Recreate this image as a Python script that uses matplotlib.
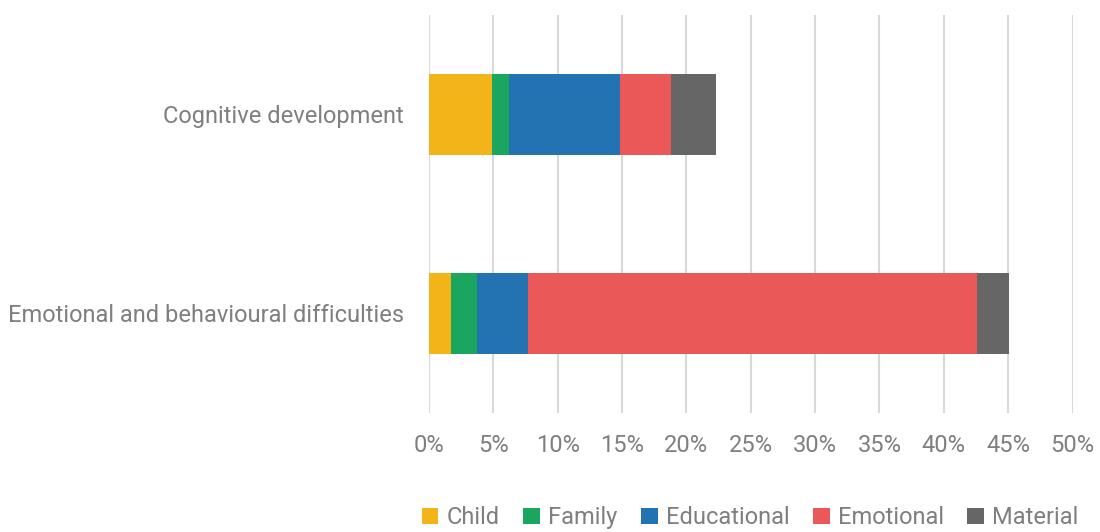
import numpy as np
import matplotlib.pyplot as plt
from matplotlib.ticker import PercentFormatter

plt.rcParams['font.family'] = ['Roboto', 'DejaVu Sans']

categories = ["Cognitive development", "Emotional and behavioural difficulties"]
series = ["Child", "Family", "Educational", "Emotional", "Material"]
colors = ["#f2b418", "#1ba660", "#2373b3", "#eb5858", "#666666"]

# share of each outcome, in percent
child = [4.9, 1.7]
family = [1.35, 2.0]
educational = [8.6, 4.0]
emotional = [3.95, 34.9]
material = [3.5, 2.45]
values = [child, family, educational, emotional, material]

text_color = "#7f7f7f"

fig = plt.figure(figsize=(11, 5.32), dpi=100)
ax = fig.add_axes([0.39, 0.224, 0.585, 0.748])

y = np.arange(len(categories))
left = np.zeros(len(categories))
for name, vals, c in zip(series, values, colors):
    ax.barh(y, vals, left=left, height=0.405, color=c, label=name, zorder=3)
    left += np.array(vals)

ax.set_xlim(0, 50)
ax.set_ylim(1.5, -0.5)
ax.set_xticks(np.arange(0, 51, 5))
ax.xaxis.set_major_formatter(PercentFormatter(decimals=0))
ax.set_yticks(y)
ax.set_yticklabels(categories)

ax.grid(axis='x', color='#d9d9d9', linewidth=1.5, zorder=0)
for s in ax.spines.values():
    s.set_visible(False)
ax.tick_params(axis='both', length=0, labelsize=17, labelcolor=text_color)
ax.tick_params(axis='x', pad=15)
ax.tick_params(axis='y', pad=18)

fig.legend(loc='lower center', bbox_to_anchor=(0.682, -0.035), ncol=5,
           frameon=False, fontsize=17, labelcolor=text_color,
           handlelength=0.7, handleheight=0.7, handletextpad=0.35,
           columnspacing=1.0)

fig.savefig("out.png", dpi=100)
